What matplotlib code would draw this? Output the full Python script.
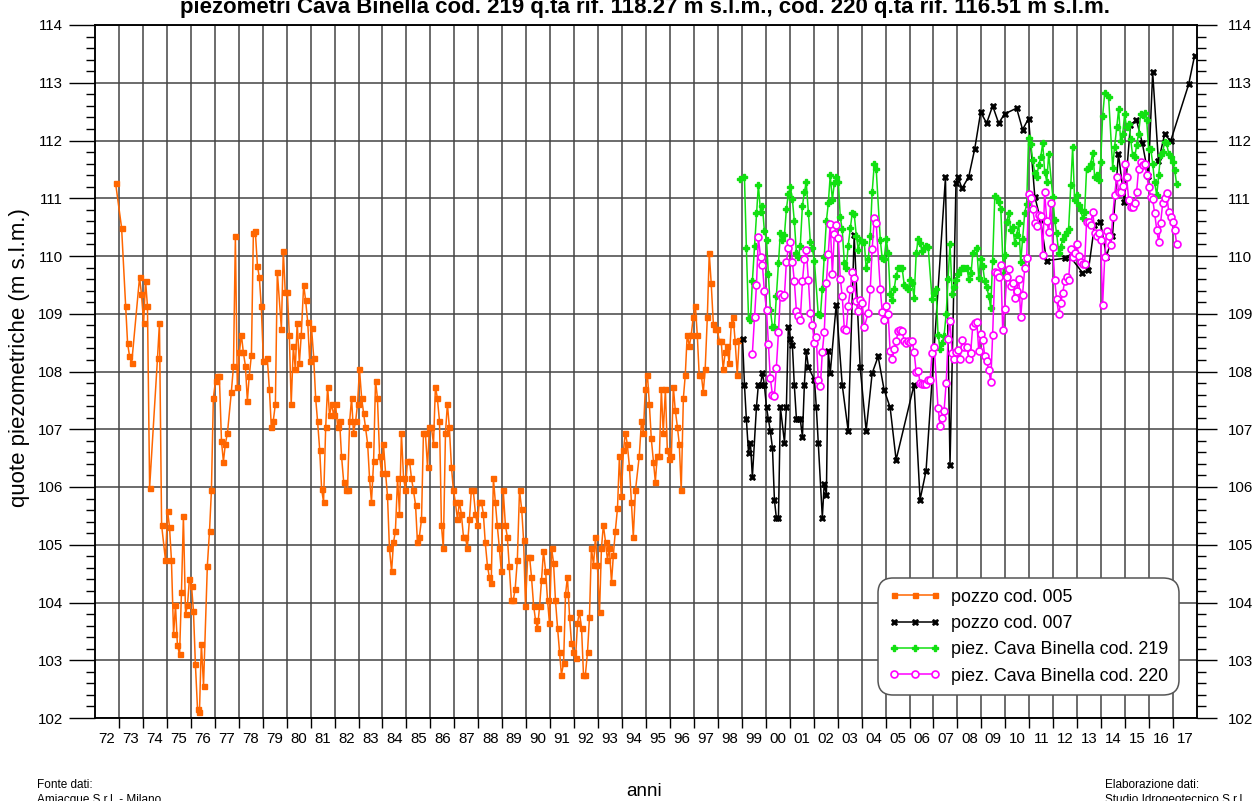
import numpy as np
import matplotlib.pyplot as plt
from matplotlib.ticker import FixedLocator, MultipleLocator, NullFormatter

plt.rcParams['font.family'] = ['Liberation Sans', 'DejaVu Sans']

# pozzo cod. 005 (anno decimale, quota m s.l.m.)
t005 = [1972.86, 1973.11, 1973.28, 1973.36, 1973.44, 1973.53, 1973.86, 1973.94, 1974.03, 1974.11,
        1974.19, 1974.28, 1974.61, 1974.69, 1974.78, 1974.94, 1975.03, 1975.11, 1975.19, 1975.28,
        1975.36, 1975.44, 1975.53, 1975.61, 1975.69, 1975.78, 1975.86, 1975.94, 1976.03, 1976.11,
        1976.19, 1976.28, 1976.36, 1976.44, 1976.53, 1976.69, 1976.78, 1976.86, 1976.94, 1977.03,
        1977.11, 1977.19, 1977.28, 1977.36, 1977.44, 1977.53, 1977.69, 1977.78, 1977.86, 1977.94,
        1978.03, 1978.11, 1978.19, 1978.28, 1978.36, 1978.44, 1978.53, 1978.61, 1978.69, 1978.78,
        1978.86, 1978.94, 1979.03, 1979.19, 1979.28, 1979.36, 1979.44, 1979.53, 1979.61, 1979.78,
        1979.86, 1979.94, 1980.03, 1980.11, 1980.19, 1980.28, 1980.36, 1980.44, 1980.53, 1980.61,
        1980.71, 1980.79, 1980.88, 1980.96, 1981.04, 1981.13, 1981.21, 1981.29, 1981.38, 1981.46,
        1981.54, 1981.63, 1981.71, 1981.79, 1981.88, 1981.96, 1982.04, 1982.13, 1982.21, 1982.29,
        1982.38, 1982.46, 1982.54, 1982.63, 1982.71, 1982.79, 1982.88, 1982.96, 1983.04, 1983.13,
        1983.21, 1983.29, 1983.38, 1983.46, 1983.54, 1983.63, 1983.71, 1983.79, 1983.88, 1983.96,
        1984.04, 1984.13, 1984.21, 1984.29, 1984.38, 1984.46, 1984.54, 1984.63, 1984.71, 1984.79,
        1984.88, 1984.96, 1985.04, 1985.13, 1985.21, 1985.29, 1985.38, 1985.46, 1985.54, 1985.63,
        1985.71, 1985.79, 1985.88, 1985.96, 1986.04, 1986.13, 1986.21, 1986.29, 1986.38, 1986.46,
        1986.54, 1986.63, 1986.71, 1986.79, 1986.88, 1986.96, 1987.04, 1987.13, 1987.21, 1987.29,
        1987.38, 1987.46, 1987.54, 1987.63, 1987.71, 1987.79, 1987.88, 1987.96, 1988.04, 1988.13,
        1988.21, 1988.29, 1988.38, 1988.46, 1988.54, 1988.63, 1988.71, 1988.79, 1988.88, 1988.96,
        1989.04, 1989.13, 1989.21, 1989.29, 1989.38, 1989.46, 1989.54, 1989.63, 1989.72, 1989.81,
        1989.89, 1989.97, 1990.06, 1990.14, 1990.22, 1990.31, 1990.39, 1990.47, 1990.56, 1990.64,
        1990.72, 1990.81, 1990.89, 1990.97, 1991.06, 1991.14, 1991.22, 1991.31, 1991.39, 1991.47,
        1991.56, 1991.64, 1991.72, 1991.81, 1991.89, 1991.97, 1992.06, 1992.14, 1992.22, 1992.31,
        1992.39, 1992.47, 1992.56, 1992.64, 1992.72, 1992.81, 1992.89, 1992.97, 1993.06, 1993.14,
        1993.22, 1993.31, 1993.39, 1993.47, 1993.56, 1993.64, 1993.72, 1993.81, 1993.89, 1993.97,
        1994.06, 1994.14, 1994.22, 1994.31, 1994.39, 1994.47, 1994.56, 1994.72, 1994.81, 1994.89,
        1994.97, 1995.06, 1995.14, 1995.22, 1995.31, 1995.39, 1995.47, 1995.56, 1995.64, 1995.72,
        1995.81, 1995.89, 1995.97, 1996.06, 1996.14, 1996.22, 1996.31, 1996.39, 1996.47, 1996.56,
        1996.64, 1996.72, 1996.81, 1996.89, 1996.97, 1997.06, 1997.14, 1997.22, 1997.31, 1997.39,
        1997.47, 1997.56, 1997.64, 1997.72, 1997.81, 1997.89, 1997.97, 1998.06, 1998.14, 1998.22,
        1998.31, 1998.39, 1998.47, 1998.56, 1998.64, 1998.72, 1998.81, 1998.89]
v005 = [111.26, 110.49, 109.14, 108.49, 108.27, 108.14, 109.63, 109.34, 108.84, 109.57,
        109.13, 105.99, 108.24, 108.84, 105.34, 104.74, 105.58, 105.31, 104.74, 103.45,
        103.95, 103.26, 103.10, 104.19, 105.49, 103.80, 103.95, 104.40, 104.29, 103.85,
        102.94, 102.15, 102.10, 103.29, 102.56, 104.64, 105.24, 105.94, 107.54, 107.84,
        107.93, 107.93, 106.79, 106.44, 106.74, 106.94, 107.64, 108.09, 110.34, 107.74,
        108.34, 108.64, 108.34, 108.09, 107.49, 107.93, 108.29, 110.39, 110.44, 109.83,
        109.63, 109.13, 108.19, 108.24, 107.69, 107.04, 107.14, 107.44, 109.73, 108.74,
        110.09, 109.38, 109.38, 108.64, 107.44, 108.44, 108.04, 108.84, 108.14, 108.64,
        109.50, 109.24, 108.85, 108.19, 108.75, 108.24, 107.54, 107.14, 106.64, 105.96,
        105.74, 107.04, 107.74, 107.24, 107.44, 107.24, 107.44, 107.04, 107.14, 106.54,
        106.09, 105.95, 105.95, 107.14, 107.54, 106.94, 107.14, 107.44, 108.04, 107.54,
        107.29, 107.04, 106.75, 106.15, 105.74, 106.45, 107.84, 107.54, 106.54, 106.24,
        106.75, 106.24, 105.84, 104.94, 104.54, 105.04, 105.24, 106.15, 105.54, 106.94,
        106.15, 105.95, 106.45, 106.45, 106.15, 105.95, 105.69, 105.04, 105.14, 105.44,
        106.94, 106.94, 106.34, 107.04, 107.04, 106.75, 107.74, 107.54, 107.14, 105.34,
        104.94, 106.94, 107.44, 107.04, 106.34, 105.95, 105.74, 105.44, 105.74, 105.54,
        105.14, 105.14, 104.94, 105.44, 105.95, 105.95, 105.54, 105.34, 105.74, 105.74,
        105.54, 105.04, 104.64, 104.44, 104.34, 106.15, 105.74, 105.34, 104.94, 104.54,
        105.95, 105.34, 105.14, 104.64, 104.04, 104.04, 104.24, 104.74, 105.94, 105.62,
        105.08, 103.94, 104.79, 104.79, 104.44, 103.94, 103.69, 103.55, 103.94, 104.39,
        104.89, 104.54, 104.04, 103.64, 104.94, 104.69, 104.04, 103.55, 103.15, 102.75,
        102.95, 104.14, 104.44, 103.75, 103.30, 103.15, 103.04, 103.64, 103.84, 103.55,
        102.75, 102.75, 103.15, 103.75, 104.94, 104.65, 105.14, 104.65, 103.84, 104.94,
        105.34, 105.05, 104.74, 104.94, 104.35, 104.83, 105.24, 105.63, 106.53, 105.84,
        106.64, 106.94, 106.74, 106.34, 105.74, 105.14, 105.94, 106.54, 107.14, 106.94,
        107.69, 107.94, 107.44, 106.84, 106.44, 106.09, 106.54, 106.54, 107.69, 106.94,
        107.69, 106.64, 106.49, 106.54, 107.74, 107.34, 107.04, 106.74, 105.94, 107.54,
        107.94, 108.64, 108.44, 108.64, 108.94, 109.14, 108.64, 107.94, 107.94, 107.64,
        108.04, 108.94, 110.05, 109.54, 108.83, 108.74, 108.74, 108.53, 108.53, 108.04,
        108.34, 108.44, 108.14, 108.83, 108.94, 108.53, 107.94, 108.55]

# pozzo cod. 007
t007 = [1999.03, 1999.11, 1999.19, 1999.28, 1999.36, 1999.44, 1999.61, 1999.69, 1999.78, 1999.86,
        1999.94, 2000.03, 2000.11, 2000.19, 2000.28, 2000.36, 2000.44, 2000.53, 2000.61, 2000.78,
        2000.86, 2000.94, 2001.03, 2001.11, 2001.19, 2001.28, 2001.36, 2001.44, 2001.53, 2001.61,
        2001.69, 2001.78, 2002.03, 2002.11, 2002.19, 2002.36, 2002.44, 2002.53, 2002.61, 2002.69,
        2002.94, 2003.19, 2003.44, 2003.69, 2003.94, 2004.19, 2004.44, 2004.69, 2004.94, 2005.19,
        2005.44, 2006.19, 2006.44, 2006.69, 2007.50, 2007.69, 2007.94, 2008.03, 2008.19, 2008.47,
        2008.72, 2008.97, 2009.22, 2009.47, 2009.72, 2009.97, 2010.47, 2010.72, 2010.97, 2011.23,
        2011.47, 2011.72, 2012.47, 2012.72, 2013.22, 2013.47, 2013.72, 2013.97, 2014.22, 2014.47,
        2014.72, 2014.97, 2015.22, 2015.47, 2015.72, 2015.97, 2016.15, 2016.39, 2016.65, 2016.90,
        2017.65, 2017.90]
v007 = [108.57, 107.77, 107.17, 106.59, 106.77, 106.17, 107.38, 107.77, 107.77, 107.97,
        107.77, 107.38, 107.17, 106.97, 106.67, 105.78, 105.47, 105.47, 107.38, 106.77,
        107.38, 108.77, 108.57, 108.46, 107.77, 107.17, 107.17, 107.17, 106.87, 107.77,
        108.36, 108.07, 107.86, 107.38, 106.77, 105.47, 106.06, 105.87, 108.36, 107.97,
        109.16, 107.77, 106.97, 110.36, 108.07, 106.97, 107.97, 108.26, 107.68, 107.38,
        106.47, 107.77, 105.78, 106.28, 111.36, 106.38, 111.27, 111.36, 111.17, 111.37,
        111.85, 112.49, 112.30, 112.60, 112.30, 112.46, 112.56, 112.19, 112.38, 111.03,
        110.62, 109.92, 109.96, 109.98, 109.71, 109.76, 110.53, 110.59, 109.99, 110.34,
        111.77, 110.94, 112.27, 112.36, 111.95, 111.39, 113.18, 111.64, 112.11, 111.99,
        112.97, 113.47]

# piez. Cava Binella cod. 219
t219 = [1998.94, 1999.11, 1999.19, 1999.28, 1999.36, 1999.44, 1999.53, 1999.61, 1999.69, 1999.78,
        1999.86, 1999.94, 2000.03, 2000.11, 2000.19, 2000.28, 2000.36, 2000.44, 2000.53, 2000.61,
        2000.69, 2000.78, 2000.86, 2000.94, 2001.03, 2001.11, 2001.19, 2001.28, 2001.36, 2001.44,
        2001.53, 2001.61, 2001.69, 2001.78, 2001.86, 2001.94, 2002.03, 2002.19, 2002.28, 2002.36,
        2002.44, 2002.53, 2002.61, 2002.69, 2002.78, 2002.86, 2002.94, 2003.03, 2003.11, 2003.19,
        2003.28, 2003.36, 2003.44, 2003.53, 2003.61, 2003.69, 2003.78, 2003.86, 2003.94, 2004.03,
        2004.11, 2004.19, 2004.28, 2004.36, 2004.44, 2004.53, 2004.61, 2004.78, 2004.86, 2004.94,
        2005.03, 2005.11, 2005.19, 2005.28, 2005.36, 2005.44, 2005.53, 2005.61, 2005.69, 2005.78,
        2005.86, 2005.94, 2006.03, 2006.11, 2006.19, 2006.28, 2006.36, 2006.44, 2006.53, 2006.61,
        2006.69, 2006.78, 2006.94, 2007.03, 2007.11, 2007.19, 2007.28, 2007.36, 2007.44, 2007.53,
        2007.61, 2007.69, 2007.78, 2007.86, 2007.94, 2008.03, 2008.11, 2008.19, 2008.28, 2008.40,
        2008.47, 2008.57, 2008.64, 2008.81, 2008.89, 2008.97, 2009.06, 2009.14, 2009.22, 2009.31,
        2009.39, 2009.47, 2009.56, 2009.64, 2009.72, 2009.81, 2009.92, 2009.97, 2010.06, 2010.14,
        2010.22, 2010.31, 2010.39, 2010.47, 2010.56, 2010.64, 2010.72, 2010.81, 2010.89, 2010.97,
        2011.06, 2011.14, 2011.23, 2011.31, 2011.39, 2011.48, 2011.56, 2011.64, 2011.73, 2011.81,
        2011.98, 2012.06, 2012.14, 2012.23, 2012.31, 2012.39, 2012.48, 2012.56, 2012.64, 2012.73,
        2012.81, 2012.89, 2012.98, 2013.06, 2013.14, 2013.23, 2013.31, 2013.39, 2013.48, 2013.56,
        2013.65, 2013.73, 2013.81, 2013.90, 2013.98, 2014.06, 2014.15, 2014.31, 2014.48, 2014.56,
        2014.65, 2014.73, 2014.81, 2014.90, 2014.98, 2015.06, 2015.15, 2015.23, 2015.31, 2015.40,
        2015.48, 2015.56, 2015.65, 2015.73, 2015.82, 2015.90, 2015.98, 2016.07, 2016.15, 2016.23,
        2016.32, 2016.40, 2016.48, 2016.57, 2016.65, 2016.73, 2016.82, 2016.90, 2016.98, 2017.07,
        2017.15]
v219 = [111.33, 111.36, 110.14, 108.92, 108.89, 109.56, 110.17, 110.74, 111.23, 110.77,
        110.86, 110.44, 110.28, 109.69, 109.07, 108.77, 108.77, 109.30, 109.88, 110.40,
        110.28, 110.37, 110.81, 111.07, 111.19, 110.98, 110.61, 110.05, 109.98, 110.18,
        110.87, 111.10, 111.28, 110.74, 110.25, 110.14, 109.91, 108.99, 108.97, 109.43,
        109.99, 110.61, 110.91, 111.40, 110.97, 111.26, 111.36, 111.28, 110.67, 110.46,
        109.88, 109.79, 110.18, 110.49, 110.75, 110.73, 110.35, 110.11, 110.27, 110.25,
        110.25, 109.79, 109.94, 110.35, 111.10, 111.60, 111.50, 110.28, 109.96, 109.94,
        110.29, 110.05, 109.35, 109.23, 109.43, 109.66, 109.79, 109.79, 109.79, 109.50,
        109.46, 109.43, 109.58, 109.53, 109.27, 110.05, 110.29, 110.22, 110.08, 110.13,
        110.17, 110.15, 109.26, 109.36, 109.42, 108.64, 108.39, 108.50, 108.61, 109.00,
        109.60, 110.21, 109.35, 109.46, 109.58, 109.69, 109.75, 109.79, 109.79, 109.79,
        109.60, 109.70, 110.05, 110.13, 109.62, 109.94, 109.82, 109.56, 109.46, 109.30,
        109.10, 109.92, 111.04, 111.00, 110.94, 110.81, 109.67, 110.02, 110.59, 110.75,
        110.45, 110.50, 110.23, 110.36, 110.57, 109.89, 110.29, 110.75, 110.90, 112.05,
        111.94, 111.66, 111.44, 111.37, 111.57, 111.72, 111.96, 111.46, 111.29, 111.77,
        111.03, 110.62, 110.39, 110.05, 110.16, 110.29, 110.36, 110.42, 110.46, 111.23,
        111.89, 110.97, 111.05, 110.88, 110.80, 110.65, 110.77, 111.50, 111.53, 111.60,
        111.79, 111.37, 111.40, 111.31, 111.63, 112.42, 112.83, 112.75, 111.53, 111.89,
        112.23, 112.55, 112.00, 112.12, 112.46, 112.23, 112.29, 112.03, 111.75, 111.71,
        111.92, 112.12, 112.46, 112.44, 112.48, 112.35, 111.86, 111.86, 111.60, 111.28,
        111.05, 111.40, 111.75, 111.80, 111.98, 111.95, 111.77, 111.72, 111.63, 111.49,
        111.24]

# piez. Cava Binella cod. 220
t220 = [1999.44, 1999.53, 1999.61, 1999.69, 1999.78, 1999.86, 1999.94, 2000.03, 2000.11, 2000.19,
        2000.28, 2000.36, 2000.44, 2000.53, 2000.61, 2000.69, 2000.78, 2000.86, 2000.94, 2001.03,
        2001.11, 2001.19, 2001.28, 2001.36, 2001.44, 2001.53, 2001.61, 2001.69, 2001.78, 2001.86,
        2001.94, 2002.03, 2002.11, 2002.19, 2002.28, 2002.36, 2002.44, 2002.53, 2002.61, 2002.69,
        2002.78, 2002.86, 2002.94, 2003.03, 2003.11, 2003.19, 2003.28, 2003.36, 2003.44, 2003.53,
        2003.61, 2003.69, 2003.78, 2003.86, 2003.94, 2004.03, 2004.11, 2004.28, 2004.36, 2004.44,
        2004.53, 2004.61, 2004.78, 2004.86, 2004.94, 2005.03, 2005.11, 2005.19, 2005.28, 2005.36,
        2005.44, 2005.53, 2005.61, 2005.69, 2005.78, 2005.86, 2005.94, 2006.03, 2006.11, 2006.19,
        2006.28, 2006.36, 2006.44, 2006.53, 2006.61, 2006.69, 2006.78, 2006.86, 2006.94, 2007.03,
        2007.19, 2007.28, 2007.36, 2007.44, 2007.53, 2007.61, 2007.69, 2007.78, 2007.86, 2007.94,
        2008.03, 2008.11, 2008.19, 2008.28, 2008.40, 2008.47, 2008.55, 2008.64, 2008.72, 2008.81,
        2008.89, 2008.97, 2009.06, 2009.14, 2009.22, 2009.31, 2009.39, 2009.47, 2009.56, 2009.64,
        2009.72, 2009.81, 2009.89, 2009.97, 2010.06, 2010.14, 2010.22, 2010.31, 2010.39, 2010.47,
        2010.56, 2010.64, 2010.72, 2010.81, 2010.89, 2010.97, 2011.06, 2011.14, 2011.23, 2011.31,
        2011.39, 2011.48, 2011.56, 2011.64, 2011.73, 2011.81, 2011.89, 2011.98, 2012.06, 2012.14,
        2012.23, 2012.31, 2012.39, 2012.48, 2012.56, 2012.64, 2012.73, 2012.81, 2012.89, 2012.98,
        2013.06, 2013.14, 2013.23, 2013.31, 2013.39, 2013.48, 2013.56, 2013.65, 2013.73, 2013.81,
        2013.90, 2013.98, 2014.06, 2014.15, 2014.23, 2014.31, 2014.40, 2014.48, 2014.56, 2014.65,
        2014.73, 2014.81, 2014.90, 2014.98, 2015.06, 2015.15, 2015.23, 2015.31, 2015.40, 2015.48,
        2015.56, 2015.65, 2015.73, 2015.82, 2015.90, 2015.98, 2016.07, 2016.15, 2016.23, 2016.32,
        2016.40, 2016.48, 2016.57, 2016.65, 2016.73, 2016.82, 2016.90, 2016.98, 2017.07, 2017.15]
v220 = [108.31, 108.94, 109.49, 110.33, 109.98, 109.85, 109.39, 109.07, 108.47, 107.88,
        107.59, 107.58, 108.06, 108.68, 109.35, 109.29, 109.32, 109.90, 110.13, 110.25,
        109.90, 109.57, 109.04, 108.96, 108.90, 109.56, 109.94, 110.11, 109.58, 109.01,
        108.81, 108.50, 108.59, 107.85, 107.75, 108.34, 108.68, 109.54, 110.04, 110.56,
        109.68, 110.38, 110.53, 110.31, 109.61, 109.31, 108.73, 108.71, 109.14, 109.42,
        109.73, 109.62, 109.22, 109.04, 109.23, 109.18, 108.77, 109.02, 109.42, 110.12,
        110.65, 110.57, 109.43, 109.03, 108.89, 109.14, 108.99, 108.35, 108.21, 108.39,
        108.53, 108.70, 108.72, 108.70, 108.53, 108.49, 108.53, 108.51, 108.53, 108.34,
        107.99, 108.01, 107.80, 107.78, 107.78, 107.78, 107.85, 107.86, 108.32, 108.42,
        107.37, 107.06, 107.19, 107.31, 107.80, 108.57, 108.88, 108.32, 108.21, 108.34,
        108.38, 108.21, 108.55, 108.43, 108.42, 108.21, 108.32, 108.79, 108.84, 108.86,
        108.35, 108.65, 108.54, 108.27, 108.18, 108.02, 107.82, 108.64, 109.73, 109.70,
        109.63, 109.85, 108.72, 109.08, 109.63, 109.78, 109.48, 109.54, 109.27, 109.40,
        109.61, 108.94, 109.33, 109.79, 109.96, 111.08, 111.00, 110.81, 110.58, 110.52,
        110.71, 110.69, 110.02, 111.11, 110.61, 110.42, 110.92, 110.16, 109.59, 109.25,
        109.00, 109.18, 109.36, 109.56, 109.64, 109.59, 110.12, 109.99, 110.06, 110.21,
        110.00, 109.89, 109.86, 109.87, 110.59, 110.59, 110.54, 110.77, 110.40, 110.34,
        110.40, 110.28, 109.15, 109.99, 110.43, 110.34, 110.19, 110.67, 111.05, 111.37,
        111.11, 111.11, 111.22, 111.59, 111.37, 110.97, 110.85, 110.85, 110.91, 111.11,
        111.50, 111.63, 111.57, 111.60, 111.40, 111.20, 111.03, 110.98, 110.75, 110.45,
        110.24, 110.57, 110.92, 111.00, 111.09, 110.77, 110.68, 110.59, 110.45, 110.21]

anni = list(range(1972, 2018))
etichette_anni = ['%02d' % (a % 100) for a in anni]

titolo = ('piezometri Cava Binella cod. 219 q.ta rif. 118.27 m s.l.m., '
          'cod. 220 q.ta rif. 116.51 m s.l.m.')

W, H = 1258, 801
fig = plt.figure(figsize=(W / 100, H / 100), dpi=100)
ax = fig.add_axes([95 / W, 1 - 718 / H, 1102 / W, 693 / H])

# serie
ax.plot(t005, v005, color='#FF6600', lw=1.1, marker='s', ms=3.6, mec='#FF6600',
        label='pozzo cod. 005', zorder=3)
ax.plot(t007, v007, color='black', lw=1.1, marker='X', ms=5, mec='black', mew=0.5,
        label='pozzo cod. 007', zorder=3)
ax.plot(t219, v219, color='#11E011', lw=1.1, marker='P', ms=5, mec='#11E011',
        label='piez. Cava Binella cod. 219', zorder=3)
ax.plot(t220, v220, color='#FF00FF', lw=1.1, marker='o', ms=5, mfc='white',
        mec='#FF00FF', mew=1.2, label='piez. Cava Binella cod. 220', zorder=3)

# asse x: griglia a inizio anno, etichette a metà anno
ax.set_xlim(1972, 2018)
ax.xaxis.set_major_locator(FixedLocator(anni[1:]))
ax.xaxis.set_major_formatter(NullFormatter())
ax.set_xticks([a + 0.5 for a in anni], minor=True)
ax.set_xticklabels(etichette_anni, minor=True)
ax.tick_params(axis='x', which='major', direction='out', length=7.2, width=1)
ax.tick_params(axis='x', which='minor', length=0, labelsize=10.8, pad=10)

# asse y
ax.set_ylim(102, 114)
ax.yaxis.set_major_locator(MultipleLocator(1))
ax.yaxis.set_minor_locator(MultipleLocator(0.2))
ax.tick_params(axis='y', which='major', direction='out', length=19, width=1,
               labelsize=10.8, pad=4)
ax.tick_params(axis='y', which='minor', direction='out', length=6.5, width=1)

ax2 = ax.twinx()
ax2.set_ylim(102, 114)
ax2.yaxis.set_major_locator(MultipleLocator(1))
ax2.yaxis.set_minor_locator(MultipleLocator(0.2))
ax2.tick_params(axis='y', which='major', direction='out', length=14.4, width=1,
                labelsize=10.8, pad=8)
ax2.tick_params(axis='y', which='minor', direction='out', length=6.5, width=1)

ax.grid(which='major', color='#444444', lw=1.1)
ax.set_axisbelow(True)
for s in list(ax.spines.values()) + list(ax2.spines.values()):
    s.set_linewidth(1.1)

leg = ax.legend(loc='upper left', bbox_to_anchor=((878 - 95) / 1102, (718 - 578) / 693),
                fontsize=12.9, numpoints=3, handlelength=2.9, handletextpad=0.55,
                labelspacing=0.52, borderpad=0.6, borderaxespad=0, framealpha=1,
                edgecolor='#555555', fancybox=True)
leg.get_frame().set_boxstyle('round', pad=0, rounding_size=0.85)
leg.get_frame().set_linewidth(1.1)
leg.set_zorder(5)

# testi
fig.text(645 / W, 1 - 13 / H, titolo, ha='center', va='baseline', fontsize=16,
         fontweight='bold')
fig.text(20 / W, 1 - 358 / H, 'quote piezometriche (m s.l.m.)', rotation=90,
         ha='center', va='center', fontsize=16)
fig.text(644 / W, 1 - 792 / H, 'anni', ha='center', va='center', fontsize=13.5)
fig.text(37 / W, 1 - 785 / H, 'Fonte dati:', ha='left', va='center', fontsize=8.5)
fig.text(37 / W, 1 - 800 / H, 'Amiacque S.r.l. - Milano', ha='left', va='center', fontsize=8.5)
fig.text(1105 / W, 1 - 785 / H, 'Elaborazione dati:', ha='left', va='center', fontsize=8.5)
fig.text(1105 / W, 1 - 800 / H, 'Studio Idrogeotecnico S.r.l.', ha='left', va='center',
         fontsize=8.5)

fig.savefig('out.png', dpi=100)
